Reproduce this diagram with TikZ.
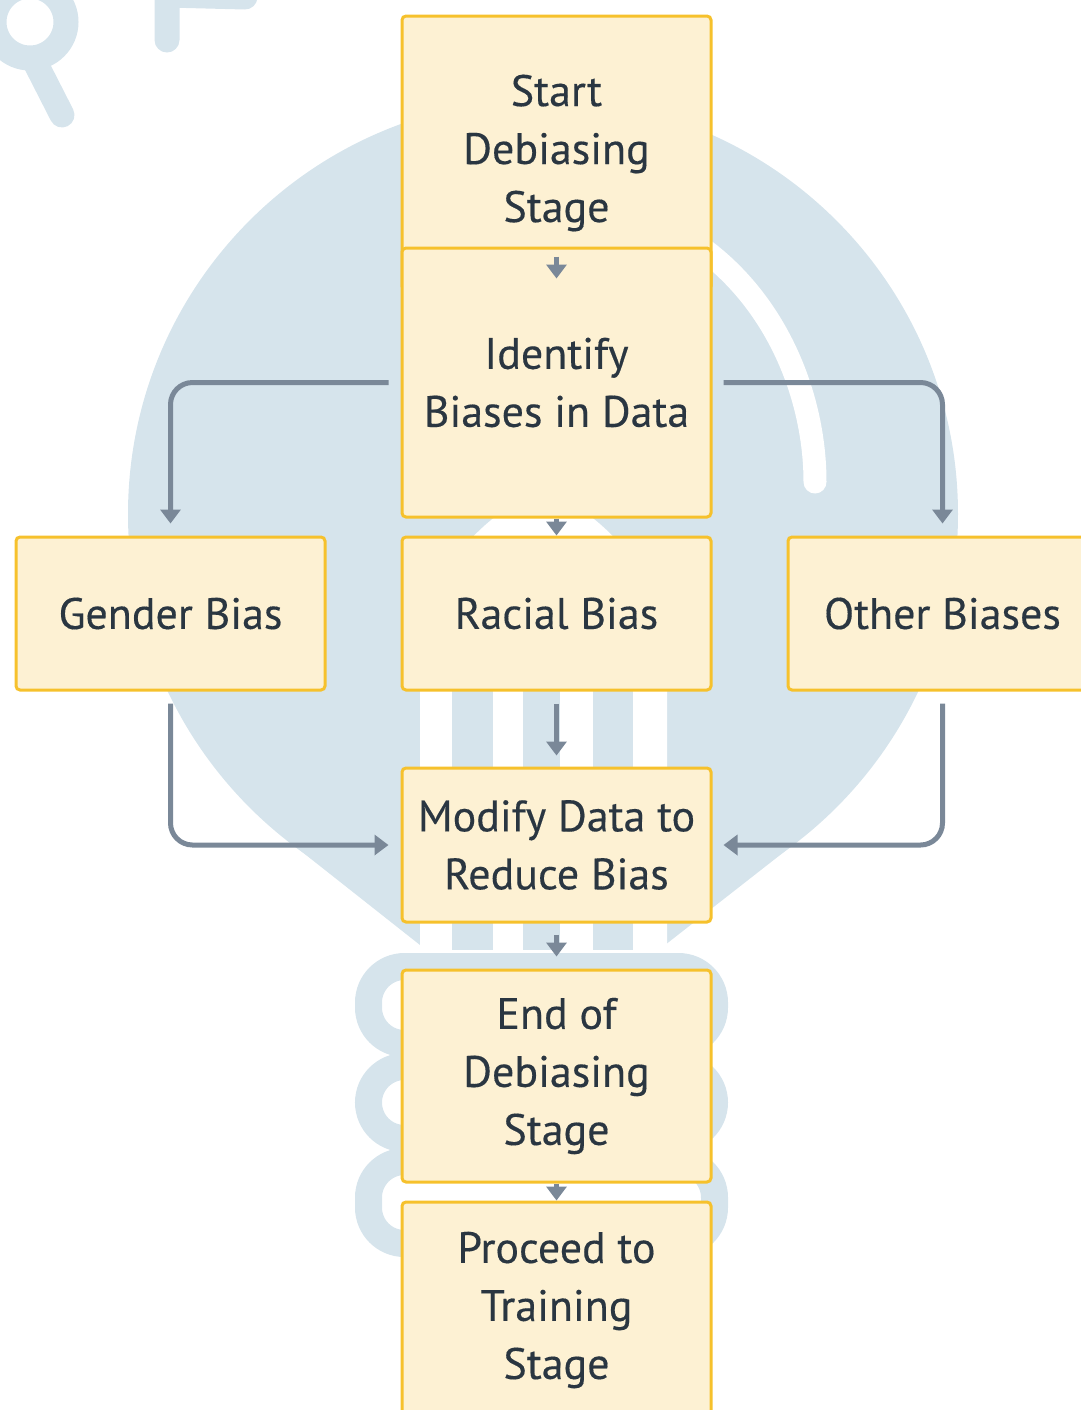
\documentclass[tikz,border=0pt]{standalone}
\usepackage{fontspec}
\setmainfont{PT Sans}[FakeBold=0.3]
\usetikzlibrary{arrows.meta}

\definecolor{boxfill}{RGB}{253,241,211}
\definecolor{boxline}{RGB}{246,193,44}
\definecolor{flowgrey}{RGB}{122,136,152}
\definecolor{inkdark}{RGB}{42,54,65}
\definecolor{wmblue}{RGB}{214,228,236}

\begin{document}
\begin{tikzpicture}[x=0.5pt,y=-0.5pt,
	stage/.style={draw=boxline, line width=1.5pt, fill=boxfill, rounded corners=2pt, minimum width=154.5pt, inner sep=0pt, text=inkdark, align=center, font=\fontsize{22}{29}\selectfont},
	flow/.style={draw=flowgrey, line width=2.5pt, rounded corners=11pt, -{Triangle[width=10pt,length=7pt]}},
	wm/.style={fill=wmblue},
	wmline/.style={draw=wmblue, line width=12.5pt, line cap=round}]

	\clip (0,0) rectangle (1081,1410);

	% watermark
	\fill[wm] (543,514) circle [radius=415];
	\fill[wm] (287,840) -- (420,945) -- (665,945) -- (798,841) -- cycle;
	\fill[white] (420,948) -- (420,640) .. controls (420,580) and (500,495) .. (543,495) .. controls (586,495) and (667,580) .. (667,640) -- (667,948) -- cycle;
	\fill[wm] (452,600) rectangle (493,950);
	\fill[wm] (523,600) rectangle (560,950);
	\fill[wm] (593,600) rectangle (633,950);
	\draw[white, line width=11.5pt, line cap=round] (690,240) .. controls (775,295) and (815,395) .. (815,482);
	\draw[wmblue, line width=13.5pt, rounded corners=18pt] (368.5,966.5) rectangle (714.5,1043.5);
	\draw[wmblue, line width=13.5pt, rounded corners=18pt] (368.5,1066.5) rectangle (714.5,1138.5);
	\draw[wmblue, line width=13.5pt, rounded corners=18pt] (368.5,1161.5) rectangle (714.5,1243.5);
	\draw[wmline] (30,22) circle [radius=36];
	\draw[wmline] (35,62) -- (62,115);
	\draw[wmline] (167,40) -- (167,-5) -- (245,-3);

	\node (S1)[stage, minimum height=137pt] at (556.5,153) {Start\\Debiasing\\Stage};
	\node (I1)[stage, minimum height=134.5pt] at (556.5,382.5) {Identify\\Biases in Data};
	\node (B1)[stage, minimum height=76.5pt] at (170.5,613.5) {Gender Bias};
	\node (B2)[stage, minimum height=76.5pt] at (556.5,613.5) {Racial Bias};
	\node (B3)[stage, minimum height=76.5pt] at (942.5,613.5) {Other Biases};
	\node (M1)[stage, minimum height=77pt] at (556.5,845) {Modify Data to\\Reduce Bias};
	\node (E1)[stage, minimum height=106pt] at (556.5,1076) {End of\\Debiasing\\Stage};
	\node (P1)[stage, minimum height=108pt] at (556.5,1310) {Proceed to\\Training\\Stage};

	\draw[flow] ([yshift=17.5pt]S1.south) -- ([yshift=6.5pt]S1.south);
	\draw[flow] (I1.south) -- (B2.north);
	\draw[flow] ([xshift=-6pt]I1.west) -| ([yshift=6pt]B1.north);
	\draw[flow] ([xshift=5.5pt]I1.east) -| ([yshift=6pt]B3.north);
	\draw[flow] ([yshift=-6pt]B2.south) -- ([yshift=5.5pt]M1.north);
	\draw[flow] ([yshift=-6pt]B1.south) |- ([xshift=-6pt]M1.west);
	\draw[flow] ([yshift=-6pt]B3.south) |- ([xshift=5.5pt]M1.east);
	\draw[flow] ([yshift=-5.5pt]M1.south) -- ([yshift=6pt]E1.north);
	\draw[flow] (E1.south) -- (P1.north);

\end{tikzpicture}
\end{document}
